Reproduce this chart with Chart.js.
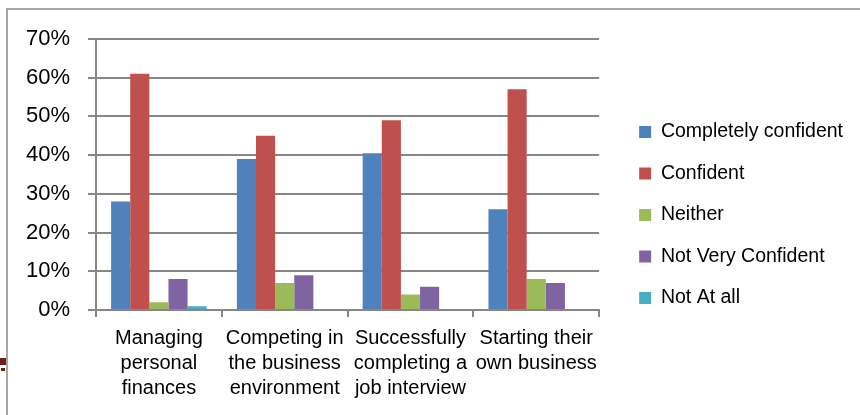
<!DOCTYPE html>
<html lang="en">
<head>
    <meta charset="UTF-8">
    <title>Confidence by task</title>
    <script src="https://cdn.jsdelivr.net/npm/chart.js@4.4.1/dist/chart.umd.min.js"></script>
    <style>
        body {
            margin: 0;
            background: #ffffff;
        }
        .frame {
            position: absolute;
            left: 6px;
            top: 8px;
            width: 900px;
            height: 500px;
            border-left: 2px solid #a6a6a6;
            border-top: 2px solid #a6a6a6;
        }
        .rule {
            position: absolute;
            left: 0;
            top: 358px;
            width: 6px;
            height: 7px;
            background: #6b1e1e;
            border-bottom: 3px solid #ffffff;
            box-shadow: 0 4px 0 -1px #6b1e1e;
        }
        .wrap {
            position: absolute;
            left: 0;
            top: 0;
            width: 860px;
            height: 415px;
        }
    </style>
</head>
<body>
    <div class="rule"></div>
    <div class="frame"></div>
    <div class="wrap"><canvas id="chart"></canvas></div>

    <script>
        // Survey groups (wrapped the way the axis shows them)
        const categories = [
            ['Managing', 'personal', 'finances'],
            ['Competing in', 'the business', 'environment'],
            ['Successfully', 'completing a', 'job interview'],
            ['Starting their', 'own business']
        ];

        // Share of answers per group, in percent
        const completelyConfident = [28, 39, 40.5, 26];
        const confident = [61, 45, 49, 57];
        const neither = [2, 7, 4, 8];
        const notVeryConfident = [8, 9, 6, 7];
        const notAtAll = [1, 0, 0, 0];

        const yTicks = [0, 10, 20, 30, 40, 50, 60, 70];

        const seriesNames = ['Completely confident', 'Confident', 'Neither', 'Not Very Confident', 'Not At all'];
        const seriesColors = ['#4f81bd', '#c0504d', '#9bbb59', '#8064a2', '#4bacc6'];
        const seriesValues = [completelyConfident, confident, neither, notVeryConfident, notAtAll];

        const gridGray = '#868686';
        const fontFamily = '"Liberation Sans", Arial, sans-serif';

        // nudge the legend block away from the plot, a bit right and up
        const legendShift = {
            id: 'legendShift',
            afterLayout(chart) {
                const lg = chart.legend;
                lg.left += 18;
                lg.right += 18;
                lg.top -= 5;
                lg.bottom -= 5;
            }
        };

        new Chart(document.getElementById('chart'), {
            type: 'bar',
            data: {
                labels: categories,
                datasets: seriesNames.map((name, i) => ({
                    label: name,
                    data: seriesValues[i],
                    backgroundColor: seriesColors[i],
                    borderWidth: 0,
                    categoryPercentage: 0.76,
                    barPercentage: 1
                }))
            },
            plugins: [legendShift],
            options: {
                responsive: true,
                maintainAspectRatio: false,
                animation: false,
                layout: {
                    padding: { left: 25, top: 39, right: 25, bottom: 14 }
                },
                plugins: {
                    legend: {
                        position: 'right',
                        maxWidth: 260,
                        labels: {
                            color: '#000000',
                            boxWidth: 12,
                            boxHeight: 12,
                            padding: 22,
                            font: { family: fontFamily, size: 19.5 }
                        }
                    },
                    tooltip: { enabled: false }
                },
                scales: {
                    x: {
                        afterFit: s => { s.height = 91; },
                        grid: {
                            drawOnChartArea: false,
                            drawTicks: true,
                            tickLength: 7,
                            color: gridGray,
                            lineWidth: 2
                        },
                        border: { color: gridGray, width: 2 },
                        ticks: {
                            color: '#000000',
                            maxRotation: 0,
                            autoSkip: false,
                            padding: 9,
                            font: { family: fontFamily, size: 20, lineHeight: 1.25 }
                        }
                    },
                    y: {
                        min: 0,
                        max: 70,
                        afterFit: s => { s.width = 71; },
                        afterBuildTicks: axis => {
                            axis.ticks = yTicks.map(v => ({ value: v }));
                        },
                        grid: {
                            color: gridGray,
                            lineWidth: 2,
                            tickLength: 8
                        },
                        border: { color: gridGray, width: 2 },
                        ticks: {
                            color: '#000000',
                            padding: 18,
                            callback: v => v + '%',
                            font: { family: fontFamily, size: 22 }
                        }
                    }
                }
            }
        });
    </script>
</body>
</html>
